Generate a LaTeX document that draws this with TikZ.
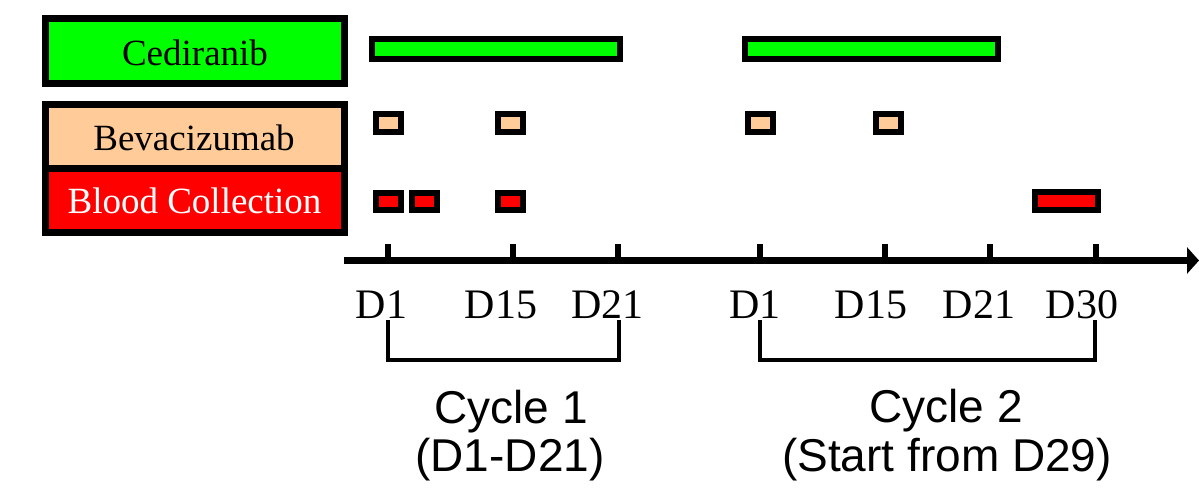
\documentclass[tikz,border=0pt]{standalone}
\usepackage{fontspec}
\setmainfont{Liberation Serif}
\newfontfamily\arialfont{Liberation Sans}
\usetikzlibrary{arrows.meta}
\definecolor{cedgreen}{RGB}{0,255,0}
\definecolor{bevpeach}{RGB}{255,204,153}
\definecolor{bloodred}{RGB}{255,0,0}
\tikzset{
  legendbox/.style={draw=black, line width=7pt},
  barbox/.style={draw=black, line width=6pt},
  legendtext/.style={anchor=base, inner sep=0pt, font=\fontsize{37}{40}\selectfont},
  daylabel/.style={anchor=base, inner sep=0pt, font=\fontsize{42}{46}\selectfont},
  cyclelabel/.style={anchor=base, inner sep=0pt, font=\arialfont\fontsize{46}{50}\selectfont},
  tickmark/.style={line width=6pt},
  bracketline/.style={line width=4pt},
}
\begin{document}
\begin{tikzpicture}[x=1pt, y=-1pt]
\useasboundingbox (0,0) rectangle (1199,499);

% legend
\draw[legendbox, fill=cedgreen] (45.5,18.5) rectangle (344.5,83.5);
\draw[legendbox, fill=bevpeach] (45.5,104.5) rectangle (344.5,168.5);
\draw[legendbox, fill=bloodred] (45.5,168.5) rectangle (344.5,232.5);
\node[legendtext] (lcedi) at (195,65) {Cediranib};
\node[legendtext] (lbev) at (194,150) {Bevacizumab};
\node[legendtext, text=white, font=\fontsize{37}{40}\selectfont] (lblood) at (194.5,213) {Blood Collection};

% cediranib bars
\draw[barbox, fill=cedgreen] (372,39) rectangle (620,59);
\draw[barbox, fill=cedgreen] (745,39) rectangle (998,59);

% bevacizumab doses
\foreach \x in {373,495,745,873}
  \draw[barbox, fill=bevpeach] (\x+3,114) rectangle (\x+28,132);

% blood collections
\foreach \x in {373,409,495}
  \draw[barbox, fill=bloodred] (\x+3,193) rectangle (\x+28,210);
\draw[barbox, fill=bloodred] (1035,192) rectangle (1098,210);

% time axis
\coordinate (axstart) at (344,260.5);
\coordinate (axend) at (1199,260.5);
\draw[line width=7.5pt, -{Triangle[length=12pt, width=26pt]}] (axstart) -- (axend);

\foreach \name/\x in {t1/388, t2/513, t3/618, t4/760, t5/885, t6/990, t7/1096} {
  \coordinate (\name) at (\x,260.5);
  \draw[tickmark] (\x,244) -- (\name);
}

% day labels
\node[daylabel] (d1a) at (381.5,318) {D1};
\node[daylabel] (d15a) at (501,318) {D15};
\node[daylabel] (d21a) at (607.5,318) {D21};
\node[daylabel] (d1b) at (755,318) {D1};
\node[daylabel] (d15b) at (871,318) {D15};
\node[daylabel] (d21b) at (979,318) {D21};
\node[daylabel] (d30b) at (1082,318) {D30};

% cycle brackets
\coordinate (b1l) at (388,320);
\coordinate (b1r) at (619,320);
\coordinate (b2l) at (760,320);
\coordinate (b2r) at (1095,320);
\draw[bracketline] (b1l) -- (388,360) -- (619,360) -- (b1r);
\draw[bracketline] (b2l) -- (760,360) -- (1095,360) -- (b2r);

% cycle labels
\node[cyclelabel] (c1) at (511,423) {Cycle 1};
\node[cyclelabel] (c1d) at (510,471) {(D1-D21)};
\node[cyclelabel] (c2) at (946,422) {Cycle 2};
\node[cyclelabel] (c2d) at (947,471) {(Start from D29)};
\end{tikzpicture}
\end{document}
